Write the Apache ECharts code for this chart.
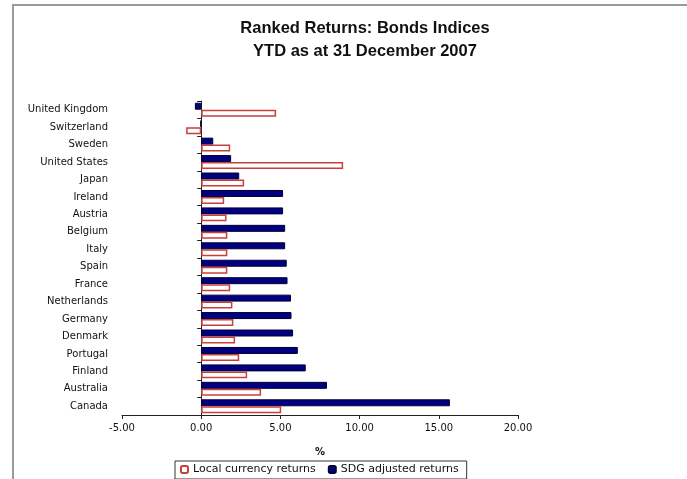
<!DOCTYPE html>
<html>
<head>
<meta charset="utf-8">
<script src="https://cdn.jsdelivr.net/npm/echarts@6/dist/echarts.min.js"></script>
<style>
  html, body { margin: 0; padding: 0; background: #fff; }
  #chart { width: 687px; height: 479px; }
</style>
</head>
<body>
<div id="chart"></div>
<script>
// Countries, bottom to top
const countries = ['Canada', 'Australia', 'Finland', 'Portugal', 'Denmark', 'Germany',
  'Netherlands', 'France', 'Spain', 'Italy', 'Belgium', 'Austria', 'Ireland', 'Japan',
  'United States', 'Sweden', 'Switzerland', 'United Kingdom'];

// Year-to-date returns, %
const localReturns = [5.05, 3.78, 2.9, 2.4, 2.14, 2.03, 1.97, 1.83, 1.65, 1.65, 1.65, 1.6,
  1.45, 2.71, 8.96, 1.83, -0.95, 4.73];
const sdgReturns = [15.7, 7.94, 6.6, 6.1, 5.8, 5.7, 5.67, 5.45, 5.4, 5.3, 5.3, 5.17,
  5.17, 2.4, 1.89, 0.76, -0.05, -0.4];

const xTicks = { min: -5, max: 20, step: 5 };

const chart = echarts.init(document.getElementById('chart'));
const labelFont = 'DejaVu Sans, Verdana, sans-serif';

chart.setOption({
  animation: false,
  backgroundColor: '#fff',
  graphic: [{
    type: 'rect',
    shape: { x: 13, y: 5, width: 700, height: 500 },
    style: { fill: 'none', stroke: '#9a9a9a', lineWidth: 2 },
    silent: true
  }],
  title: {
    text: 'Ranked Returns: Bonds Indices\nYTD as at 31 December 2007',
    left: 360,
    textAlign: 'center',
    top: 12,
    textStyle: {
      fontFamily: 'Liberation Sans, Arial, sans-serif',
      fontWeight: 'bold',
      fontSize: 16.5,
      lineHeight: 23,
      color: '#111'
    }
  },
  legend: {
    left: 175,
    top: 461,
    orient: 'horizontal',
    itemWidth: 7,
    itemHeight: 7,
    itemGap: 12,
    padding: [3, 8, 4, 5],
    borderColor: '#333',
    borderWidth: 1,
    textStyle: { fontFamily: labelFont, fontSize: 11, color: '#111' },
    data: ['Local currency returns', 'SDG adjusted returns']
  },
  grid: { left: 122, right: 169, top: 101, bottom: 64 },
  xAxis: {
    type: 'value',
    min: xTicks.min,
    max: xTicks.max,
    interval: xTicks.step,
    name: '%',
    nameLocation: 'middle',
    nameGap: 32,
    nameTextStyle: { fontFamily: labelFont, fontSize: 10, fontWeight: 'bold', color: '#111' },
    axisLine: { show: true, lineStyle: { color: '#222', width: 1 } },
    axisTick: { show: true, length: 4, lineStyle: { color: '#222' } },
    axisLabel: {
      margin: 8,
      fontFamily: labelFont,
      fontSize: 10,
      color: '#111',
      formatter: v => v.toFixed(2)
    },
    splitLine: { show: false }
  },
  yAxis: [{
    type: 'category',
    data: countries,
    position: 'left',
    axisLine: { show: false, onZero: false },
    axisTick: { show: false },
    axisLabel: { margin: 14, fontFamily: labelFont, fontSize: 10, color: '#111' }
  }, {
    type: 'category',
    data: countries,
    position: 'left',
    axisLine: { show: true, onZero: true, lineStyle: { color: '#222', width: 1 } },
    axisTick: { show: true, length: 4, lineStyle: { color: '#222' } },
    axisLabel: { show: false },
    splitLine: { show: false }
  }],
  // SDG series listed first so it sits on top within each band
  series: [{
    name: 'SDG adjusted returns',
    type: 'bar',
    yAxisIndex: 0,
    data: sdgReturns,
    barGap: '0%',
    barCategoryGap: '20%',
    itemStyle: { color: '#000080', borderColor: '#000033', borderWidth: 1 }
  }, {
    name: 'Local currency returns',
    type: 'bar',
    yAxisIndex: 0,
    data: localReturns,
    barGap: '0%',
    barCategoryGap: '20%',
    itemStyle: { color: '#fff', borderColor: '#c8403c', borderWidth: 1.5 }
  }]
});
</script>
</body>
</html>
